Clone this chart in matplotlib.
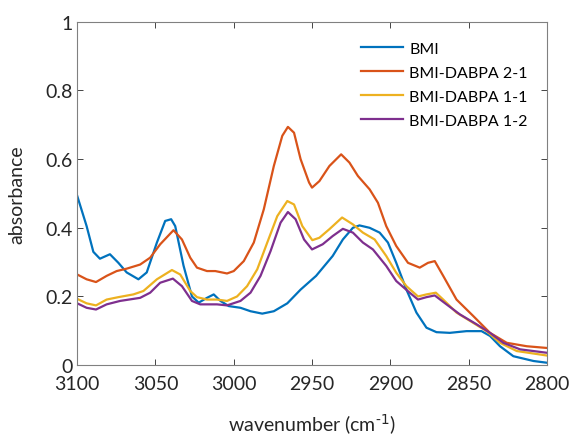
import matplotlib
matplotlib.use("Agg")
import matplotlib.pyplot as plt

plt.rcParams['font.family'] = ['Lato', 'DejaVu Sans']

# ---- data (wavenumber in cm^-1, absorbance)
bmi_x = [3100, 3094.0, 3089.7, 3085.5, 3079.1, 3073.7, 3068.4, 3060.9, 3055.6, 3049.1,
         3043.8, 3040.0, 3037.4, 3032.1, 3026.7, 3022.4, 3017.1, 3012.8, 3008.5, 3003.2,
         2995.7, 2989.3, 2981.8, 2974.4, 2965.8, 2957.3, 2947.4, 2936.8, 2930.3, 2923.9,
         2919.7, 2913.2, 2906.8, 2901.5, 2896.2, 2889.7, 2883.3, 2876.9, 2870.5, 2862.0,
         2851.3, 2841.7, 2836.3, 2829.9, 2821.4, 2808.5, 2800]
bmi_y = [0.493, 0.405, 0.330, 0.310, 0.323, 0.298, 0.270, 0.250, 0.270, 0.357,
         0.420, 0.425, 0.405, 0.290, 0.200, 0.182, 0.196, 0.206, 0.187, 0.172,
         0.167, 0.157, 0.150, 0.157, 0.180, 0.220, 0.260, 0.318, 0.366, 0.400,
         0.407, 0.400, 0.386, 0.357, 0.298, 0.220, 0.153, 0.109, 0.096, 0.094,
         0.099, 0.099, 0.085, 0.055, 0.026, 0.012, 0.007]

r21_x = [3100, 3094.0, 3088.0, 3081.2, 3074.8, 3068.4, 3059.8, 3053.4, 3047.0, 3038.5,
         3033.1, 3027.8, 3023.5, 3017.1, 3011.8, 3004.3, 3000.0, 2993.6, 2987.2, 2980.8,
         2974.4, 2969.0, 2965.4, 2961.5, 2957.3, 2951.9, 2950.0, 2945.3, 2938.9, 2931.4,
         2926.1, 2920.7, 2913.2, 2907.9, 2902.6, 2896.2, 2888.7, 2881.2, 2875.9, 2871.6,
         2866.2, 2857.7, 2847.0, 2836.3, 2825.6, 2812.8, 2800]
r21_y = [0.264, 0.250, 0.242, 0.260, 0.274, 0.281, 0.293, 0.313, 0.352, 0.393,
         0.366, 0.313, 0.284, 0.274, 0.274, 0.267, 0.274, 0.303, 0.357, 0.454,
         0.580, 0.668, 0.694, 0.677, 0.600, 0.532, 0.517, 0.536, 0.580, 0.614,
         0.590, 0.551, 0.512, 0.473, 0.405, 0.347, 0.298, 0.284, 0.298, 0.303,
         0.260, 0.191, 0.143, 0.094, 0.065, 0.055, 0.050]

r11_x = [3100, 3094.0, 3088.0, 3081.2, 3073.7, 3064.1, 3057.7, 3049.1, 3039.5, 3034.2,
         3027.8, 3023.5, 3017.1, 3010.7, 3004.3, 2997.9, 2991.5, 2985.0, 2978.6, 2972.2,
         2965.8, 2961.5, 2956.2, 2949.8, 2945.3, 2938.9, 2930.8, 2923.9, 2917.5, 2910.0,
         2902.6, 2896.2, 2889.7, 2882.3, 2876.9, 2870.9, 2866.2, 2857.7, 2847.0, 2838.5,
         2829.9, 2819.2, 2800]
r11_y = [0.193, 0.180, 0.174, 0.191, 0.198, 0.206, 0.216, 0.250, 0.277, 0.264,
         0.216, 0.198, 0.191, 0.191, 0.187, 0.200, 0.230, 0.279, 0.357, 0.434,
         0.478, 0.468, 0.405, 0.364, 0.371, 0.396, 0.430, 0.410, 0.386, 0.366,
         0.318, 0.269, 0.230, 0.200, 0.206, 0.211, 0.191, 0.153, 0.123, 0.099,
         0.065, 0.041, 0.028]

r12_x = [3100, 3094.0, 3088.0, 3081.2, 3072.6, 3059.8, 3053.4, 3047.0, 3038.9, 3033.1,
         3026.7, 3021.4, 3010.7, 3004.3, 2995.7, 2989.3, 2982.9, 2976.5, 2970.1, 2965.4,
         2960.5, 2955.1, 2950.0, 2943.2, 2936.8, 2930.3, 2923.9, 2917.5, 2911.1, 2902.6,
         2896.2, 2887.6, 2882.3, 2876.9, 2871.6, 2864.1, 2855.6, 2844.9, 2836.3, 2827.8,
         2817.1, 2800]
r12_y = [0.180, 0.167, 0.162, 0.177, 0.187, 0.196, 0.211, 0.240, 0.252, 0.230,
         0.187, 0.177, 0.177, 0.174, 0.187, 0.211, 0.260, 0.332, 0.415, 0.446,
         0.425, 0.366, 0.337, 0.352, 0.376, 0.397, 0.386, 0.357, 0.337, 0.289,
         0.245, 0.211, 0.191, 0.198, 0.203, 0.177, 0.148, 0.119, 0.094, 0.065,
         0.046, 0.036]

labels = ["BMI", "BMI-DABPA 2-1", "BMI-DABPA 1-1", "BMI-DABPA 1-2"]
colors = ["#0072BD", "#D95319", "#EDB120", "#7E2F8E"]

fig = plt.figure(figsize=(5.72, 4.39), dpi=100)
ax = fig.add_axes([0.135, 0.166, 0.821, 0.782])

for xs, ys, lab, c in zip([bmi_x, r21_x, r11_x, r12_x], [bmi_y, r21_y, r11_y, r12_y],
                          labels, colors):
    ax.plot(xs, ys, color=c, lw=1.6, label=lab)

ax.set_xlim(3100, 2800)
ax.set_ylim(0, 1)
ax.set_xticks([3100, 3050, 3000, 2950, 2900, 2850, 2800])
ax.set_yticks([0, 0.2, 0.4, 0.6, 0.8, 1])
ax.set_yticklabels(["0", "0.2", "0.4", "0.6", "0.8", "1"])
ax.tick_params(direction="in", top=True, right=True, labelsize=14, colors="#262626",
               length=4, width=0.6)
ax.tick_params(axis="x", pad=7)
for s in ax.spines.values():
    s.set_color("#808080")
    s.set_linewidth(0.8)
ax.set_xlabel("wavenumber (cm$^{\\text{-1}}$)", fontsize=14, color="#262626",
              labelpad=14)
ax.set_ylabel("absorbance", fontsize=14, color="#262626", labelpad=14)
ax.legend(loc="upper right", frameon=False, fontsize=11.5, handlelength=2.6,
          handletextpad=0.4, labelspacing=0.62, bbox_to_anchor=(0.99, 0.985))

fig.savefig("out.png", dpi=100)
